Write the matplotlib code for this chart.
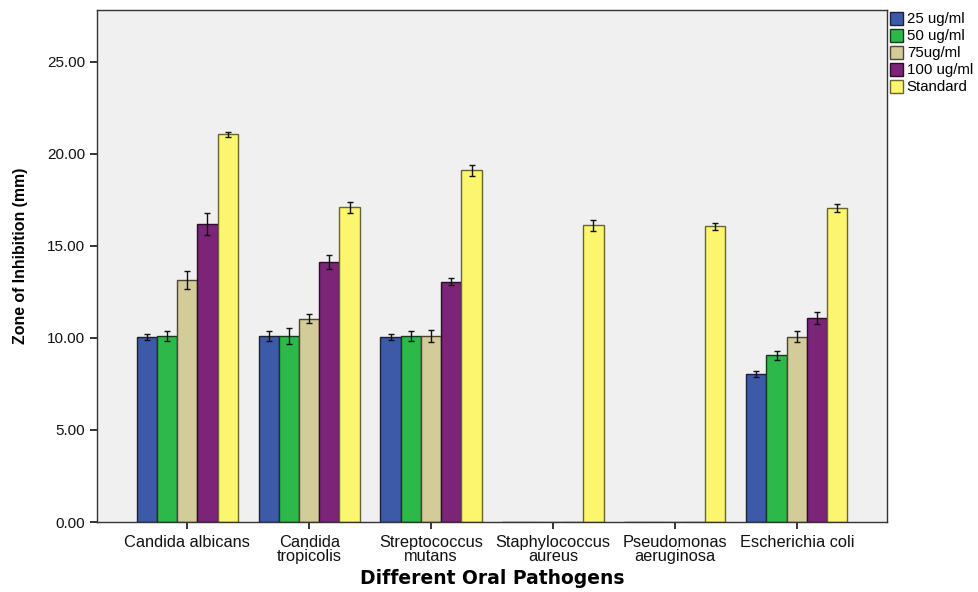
import matplotlib.pyplot as plt
import numpy as np
from matplotlib import font_manager

# Zone of inhibition per pathogen and extract concentration
pathogens = ["Candida albicans", "Candida\ntropicolis", "Streptococcus\nmutans",
             "Staphylococcus\naureus", "Pseudomonas\naeruginosa", "Escherichia coli"]
series = ["25 ug/ml", "50 ug/ml", "75ug/ml", "100 ug/ml", "Standard"]

conc_25 = [10.05, 10.10, 10.05, 0.0, 0.0, 8.05]
conc_50 = [10.10, 10.10, 10.10, 0.0, 0.0, 9.05]
conc_75 = [13.15, 11.05, 10.10, 0.0, 0.0, 10.05]
conc_100 = [16.20, 14.10, 13.05, 0.0, 0.0, 11.10]
standard = [21.05, 17.10, 19.10, 16.10, 16.05, 17.05]

err_25 = [0.15, 0.28, 0.15, 0.0, 0.0, 0.15]
err_50 = [0.28, 0.42, 0.25, 0.0, 0.0, 0.25]
err_75 = [0.50, 0.22, 0.32, 0.0, 0.0, 0.30]
err_100 = [0.60, 0.38, 0.20, 0.0, 0.0, 0.33]
err_std = [0.15, 0.30, 0.30, 0.30, 0.20, 0.22]

values = [conc_25, conc_50, conc_75, conc_100, standard]
errors = [err_25, err_50, err_75, err_100, err_std]

fills = ["#3d5aa8", "#2db84a", "#d3cb98", "#7c2478", "#fbf66e"]
edges = ["#1a1f3a", "#143a1c", "#4a4530", "#2a0d28", "#6a6530"]

names = {f.name for f in font_manager.fontManager.ttflist}
sans = "Liberation Sans" if "Liberation Sans" in names else "DejaVu Sans"
plt.rcParams["font.family"] = [sans, "DejaVu Sans"]

fig = plt.figure(figsize=(9.79, 5.92), dpi=100)
ax = fig.add_axes([0.0991, 0.1182, 0.8069, 0.8649])
ax.set_facecolor("#f0f0f0")

x = np.arange(len(pathogens))
width = 0.166
for i, (vals, errs) in enumerate(zip(values, errors)):
    pos = x + (i - 2) * width
    ax.bar(pos, vals, width, color=fills[i], edgecolor=edges[i], linewidth=1.0,
           label=series[i], zorder=2)
    mask = np.array(vals) > 0
    ax.errorbar(pos[mask], np.array(vals)[mask], yerr=np.array(errs)[mask],
                fmt="none", ecolor="#111111", elinewidth=1.0, capsize=2.2,
                capthick=1.0, zorder=3)

ax.set_xlim(-0.74, 5.74)
ax.set_ylim(0, 27.8)
ax.set_yticks([0, 5, 10, 15, 20, 25])
ax.set_yticklabels(["%.2f" % v for v in [0, 5, 10, 15, 20, 25]])
ax.set_xticks(x)
ax.set_xticklabels(pathogens, linespacing=0.95)
ax.tick_params(axis="both", direction="out", length=5, width=1.2,
               labelsize=11, colors="#111111")
ax.tick_params(axis="x", labelsize=11.8, pad=4)
for sp in ax.spines.values():
    sp.set_color("#333333")
    sp.set_linewidth(1.0)

ax.set_ylabel("Zone of Inhibition (mm)", fontsize=11.4, fontweight="bold")
ax.yaxis.set_label_coords(-0.088, 0.52)
ax.set_xlabel("Different Oral Pathogens", fontsize=13.5, fontweight="bold",
              family="DejaVu Sans", labelpad=4)

ax.legend(loc="upper left", bbox_to_anchor=(0.904, 0.988),
          bbox_transform=fig.transFigure, frameon=False, fontsize=10.8,
          handlelength=0.9, handleheight=0.95, handletextpad=0.25,
          labelspacing=0.16, borderpad=0.2, borderaxespad=0.1)

fig.savefig("out.png", dpi=100)
